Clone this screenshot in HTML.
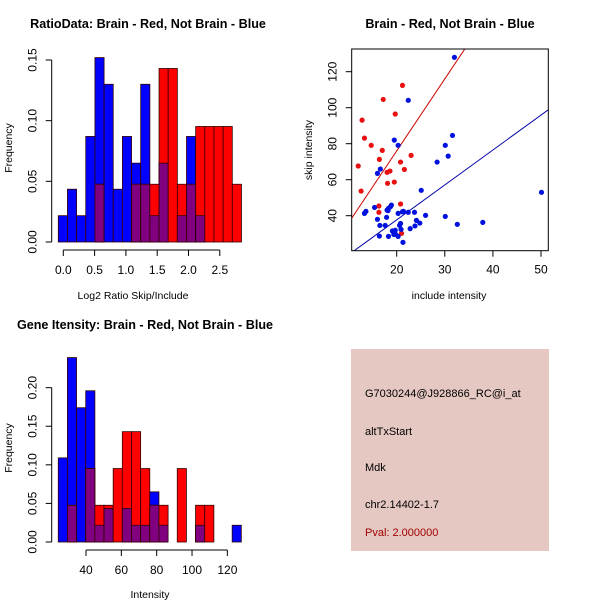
<!DOCTYPE html>
<html><head><meta charset="utf-8"><style>
body{margin:0;background:#fff;}
svg{display:block;font-family:"Liberation Sans",sans-serif;}
</style></head><body>
<svg id="c" width="600" height="600" viewBox="0 0 600 600">
<rect x="0" y="0" width="600" height="600" fill="#fff"/>
<rect x="351" y="349" width="198" height="202" fill="#e6c8c2"/>
<text x="365" y="397" font-size="11" fill="#000">G7030244@J928866_RC@i_at</text>
<text x="365" y="435" font-size="11" fill="#000">altTxStart</text>
<text x="365" y="471" font-size="11" fill="#000">Mdk</text>
<text x="365" y="508" font-size="11" fill="#000">chr2.14402-1.7</text>
<text x="365" y="536" font-size="11" fill="#a00000">Pval: 2.000000</text>
</svg>
<script>
// ---- Histogram 1: RatioData ----
const ratioBinStart = -0.08;
const ratioBinWidth = 0.1463;
const ratioBlue = [0.0217,0.0435,0.0217,0.087,0.152,0.130,0.0435,0.087,0.065,0.130,0.0217,0.065,0,0.0217,0.087,0.0217,0,0,0,0];
const ratioRed  = [0,0,0,0,0.0476,0,0,0,0.0476,0.0476,0.0476,0.143,0.143,0.0476,0.0476,0.0952,0.0952,0.0952,0.0952,0.0476];
const ratioXTicks = ["0.0","0.5","1.0","1.5","2.0","2.5"];
const ratioYTicks = ["0.00","0.05","0.10","0.15"];
// ---- Histogram 2: Gene intensity ----
const geneBinStart = 24.3;
const geneBinWidth = 5.18;
const geneBlue = [0.109,0.239,0.174,0.196,0.0217,0.0435,0,0.0435,0.0217,0.0217,0.065,0.0217,0,0,0,0.0217,0,0,0,0.0217];
const geneRed  = [0,0.0476,0,0.0952,0.0476,0.0476,0.0952,0.143,0.143,0.0952,0.0476,0.0476,0,0.0952,0,0.0476,0.0476,0,0,0];
const geneXTicks = ["40","60","80","100","120"];
const geneYTicks = ["0.00","0.05","0.10","0.15","0.20"];
// ---- Scatter ----
const redX = [12.0,12.6,12.8,13.3,14.7,16.3,16.3,16.4,17.0,17.2,18.0,18.1,18.6,19.5,19.7,20.8,20.8,21.0,21.2,21.6,23.0];
const redY = [67.6,53.7,93.1,83.1,79.1,45.4,41.9,71.3,76.3,104.6,64.1,58.0,64.8,58.7,96.5,69.8,46.5,30.2,112.4,65.7,73.5];
const blueX = [32.0,22.4,19.5,20.3,31.6,30.1,30.7,28.4,16.6,16.0,25.1,50.1,15.4,13.3,13.6,16.0,16.5,16.4,18.0,18.3,18.7,18.9,17.9,17.6,18.3,19.1,19.7,19.8,20.3,20.3,20.6,20.8,20.9,21.2,21.4,22.4,23.7,24.1,24.8,23.8,22.8,26.0,30.1,32.6,37.9,21.3,19.4,18.2];
const blueY = [128.0,104.1,82.0,79.1,84.6,79.1,73.1,69.8,65.9,63.5,54.1,53.0,44.6,41.3,42.4,38.0,34.6,28.7,43.1,44.1,45.0,45.9,39.1,34.6,28.5,31.5,31.9,29.6,28.5,41.3,34.6,35.7,32.4,42.2,42.4,41.9,41.9,37.4,35.9,34.3,32.8,40.2,39.6,35.2,36.3,25.2,29.6,42.8];
const redLine = [4.0,-4.0];   // slope, intercept
const blueLine = [1.94,-1.1];
const scatXTicks = [20,30,40,50];
const scatYTicks = [40,60,80,100,120];

const svg = document.getElementById('c');
const NS = 'http://www.w3.org/2000/svg';
function mk(tag, attrs, parent){const e=document.createElementNS(NS,tag);for(const k in attrs)e.setAttribute(k,attrs[k]);(parent||svg).appendChild(e);return e;}
function txt(x,y,s,size,opts){const t=mk('text',Object.assign({x:x,y:y,'font-size':size,'text-anchor':'middle'},opts||{}));t.textContent=s;return t;}

function hist(name, binStart, binW, blue, red, sx, sy, xTicks, xTickVals, yTicks, yTickVals, axY, axisX){
  const g = mk('g',{});
  
  
  const base = sy(0);
  for(let i=0;i<blue.length;i++){
    const x0=sx(binStart+i*binW), x1=sx(binStart+(i+1)*binW);
    const b=blue[i], r=red[i], lo=Math.min(b,r);
    const draw=(v,col,nm)=>{ if(v<=0) return; const rc=mk('rect',{x:x0,y:sy(v),width:x1-x0,height:base-sy(v),fill:col,stroke:'#300',"stroke-width":0.8},g);
      
       };
    draw(b,'#0000ff','bar-blue-'+i);
    draw(r,'#ff0000','bar-red-'+i);
    draw(lo,'#800080','bar-overlap-'+i);
  }
  const xa=mk('g',{},g);
  
  
  mk('line',{x1:sx(xTickVals[0]),x2:sx(xTickVals[xTickVals.length-1]),y1:axY,y2:axY,stroke:'#000'},xa);
  xTickVals.forEach((v,i)=>{mk('line',{x1:sx(v),x2:sx(v),y1:axY,y2:axY+6,stroke:'#000'},xa);txt(sx(v),axY+24,xTicks[i],12,{});});
  const ya=mk('g',{},g);
  
  
  mk('line',{x1:axisX,x2:axisX,y1:sy(yTickVals[0]),y2:sy(yTickVals[yTickVals.length-1]),stroke:'#000'},ya);
  yTickVals.forEach((v,i)=>{mk('line',{x1:axisX,x2:axisX-6,y1:sy(v),y2:sy(v),stroke:'#000'},ya);
    const t=txt(axisX-15,sy(v),yTicks[i],12,{transform:'rotate(-90 '+(axisX-15)+' '+sy(v)+')'});});
}

// Hist 1
{
  const sx=v=>63.3+v*62.6, sy=v=>242-v*1213.3;
  hist('ratio-histogram', ratioBinStart, ratioBinWidth, ratioBlue, ratioRed, sx, sy, ratioXTicks, ratioXTicks.map(Number), ratioYTicks, ratioYTicks.map(Number), 250, 51.7);
  txt(148,28,'RatioData: Brain - Red, Not Brain - Blue',12.6,{'font-weight':'bold'});
  txt(133,299,'Log2 Ratio Skip/Include',10.5,{});
  txt(12,148,'Frequency',10.5,{transform:'rotate(-90 12 148)'});
}
// Hist 2
{
  const sx=v=>86+(v-40)*1.767, sy=v=>542-v*771.7;
  hist('gene-histogram', geneBinStart, geneBinWidth, geneBlue, geneRed, sx, sy, geneXTicks, geneXTicks.map(Number), geneYTicks, geneYTicks.map(Number), 550, 51.7);
  txt(145,329,'Gene Itensity: Brain - Red, Not Brain - Blue',12.6,{'font-weight':'bold'});
  txt(150,598,'Intensity',10.5,{});
  txt(12,448,'Frequency',10.5,{transform:'rotate(-90 12 448)'});
}
// Scatter
{
  const L=351.7,R=548.3,T=49,B=250.7;
  const sx=v=>396.7+(v-20)*4.81, sy=v=>215.7-(v-40)*1.8;
  const g=mk('g',{});
  
  
  const clip=mk('clipPath',{id:'sc'},g);mk('rect',{x:L,y:T,width:R-L,height:B-T},clip);
  const inv=px=>20+(px-396.7)/4.81;
  const xl=inv(L), xr=inv(R);
  [[redLine,'#cc0000','red-fit-line'],[blueLine,'#0000aa','blue-fit-line']].forEach(([ln,col,nm])=>{
    const l=mk('line',{x1:sx(xl),y1:sy(ln[0]*xl+ln[1]),x2:sx(xr),y2:sy(ln[0]*xr+ln[1]),stroke:col,'stroke-width':1,'clip-path':'url(#sc)'},g);
    
  });
  redX.forEach((x,i)=>{const c=mk('circle',{cx:sx(x),cy:sy(redY[i]),r:2.6,fill:'#e81010'},g);
    });
  blueX.forEach((x,i)=>{const c=mk('circle',{cx:sx(x),cy:sy(blueY[i]),r:2.6,fill:'#0010dd'},g);
    });
  mk('rect',{x:L,y:T,width:R-L,height:B-T,fill:'none',stroke:'#000'},g);
  scatXTicks.forEach(v=>{mk('line',{x1:sx(v),x2:sx(v),y1:B,y2:B+6,stroke:'#000'},g);txt(sx(v),B+23,String(v),12,{});});
  scatYTicks.forEach(v=>{mk('line',{x1:L,x2:L-6,y1:sy(v),y2:sy(v),stroke:'#000'},g);
    const t=txt(L-15,sy(v),String(v),12,{transform:'rotate(-90 '+(L-15)+' '+sy(v)+')'});});
  txt(450,28,'Brain - Red, Not Brain - Blue',12.6,{'font-weight':'bold'});
  txt(449,299,'include intensity',10.5,{});
  txt(312,150,'skip intensity',10.5,{transform:'rotate(-90 312 150)'});
}
</script>
</body></html>
